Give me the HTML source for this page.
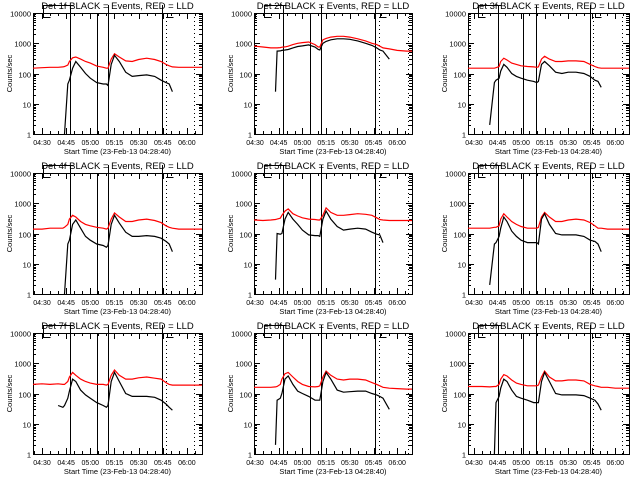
<!DOCTYPE html>
<html><head><meta charset="utf-8"><style>
html,body{margin:0;padding:0;background:#fff;}
svg{display:block;font-family:"Liberation Sans",sans-serif;}
</style></head><body>
<svg id="fig" width="640" height="480" viewBox="0 0 640 480" xmlns="http://www.w3.org/2000/svg" shape-rendering="crispEdges"></svg>
<script>
const T = [-6,0,5,10,13,14,16,17,19,21,24,27,30,34,38,40,41,43,45,48,52,56,60,65,70,74,77,79,81,85,90,96,100];
const n = null;
const red1 = [150,155,160,160,165,170,190,250,330,350,300,250,220,175,160,150,150,300,450,350,260,250,290,320,290,250,200,180,165,160,160,160,160];
const blk1 = [n,n,n,n,n,1,45,60,150,250,160,100,70,50,45,45,40,200,400,250,110,80,85,90,80,60,50,45,25,n,n,n,n];
const red2 = [800,800,750,700,700,700,720,740,760,800,900,1000,1050,1100,900,750,750,1300,1450,1600,1700,1700,1600,1400,1200,1000,900,800,700,650,580,550,550];
const blk2 = [n,n,n,n,25,550,560,580,600,620,700,780,820,880,750,620,600,1000,1150,1300,1400,1400,1350,1200,1000,850,700,600,550,300,n,n,n];
const red3 = [150,150,150,150,150,155,170,250,320,280,220,200,180,170,165,160,165,300,370,300,250,250,260,260,250,200,170,155,150,150,150,150,150];
const blk3 = [n,n,n,2,50,60,70,120,200,160,100,80,70,60,55,50,55,200,250,180,110,100,110,110,100,80,60,55,35,n,n,n,n];
const red4 = [140,140,150,150,150,160,200,300,400,350,250,200,180,160,150,140,150,300,480,350,250,250,280,300,270,230,180,160,150,140,140,140,140];
const blk4 = [n,n,n,n,n,1,45,60,200,280,150,80,60,45,40,35,40,200,400,220,110,80,80,85,80,70,55,45,25,n,n,n,n];
const red5 = [280,280,270,280,290,300,320,400,550,650,450,380,330,300,290,280,280,400,700,500,400,400,420,450,430,400,330,290,280,270,270,270,270];
const blk5 = [n,n,n,n,3,100,95,100,300,500,300,200,130,90,85,85,80,300,550,300,170,130,140,150,140,110,95,90,50,n,n,n,n];
const red6 = [150,150,150,150,160,160,180,300,450,350,250,200,170,150,150,150,160,350,500,350,250,250,280,300,280,230,180,150,150,140,140,140,140];
const blk6 = [n,n,n,2,45,50,80,150,350,250,120,80,60,50,50,50,45,300,450,200,100,90,90,90,80,60,55,45,25,n,n,n,n];
const red7 = [200,210,200,210,200,200,250,350,500,400,300,250,220,200,200,190,200,400,600,400,300,300,330,350,320,300,230,200,190,190,190,190,190];
const blk7 = [n,n,n,40,35,40,70,120,300,250,130,90,70,50,40,35,40,250,500,250,100,80,80,80,75,60,45,35,28,n,n,n,n];
const red8 = [160,160,160,160,165,170,200,300,450,500,350,250,200,170,165,170,180,350,550,400,300,280,300,300,280,230,200,180,160,150,145,140,140];
const blk8 = [n,n,n,n,2,60,70,100,300,380,200,120,100,80,60,60,60,250,500,300,130,110,115,120,120,100,90,80,70,30,n,n,n];
const red9 = [170,170,170,165,170,170,200,300,420,380,280,220,200,180,180,180,190,350,550,350,260,260,280,280,260,200,180,170,160,160,150,150,150];
const blk9 = [n,n,n,n,1,50,80,150,300,250,130,80,70,60,50,50,50,250,500,250,100,90,90,90,85,70,60,45,28,n,n,n,n];
const reds = [red1,red2,red3,red4,red5,red6,red7,red8,red9];
const blacks = [blk1,blk2,blk3,blk4,blk5,blk6,blk7,blk8,blk9];
const solidLines = [[17.4,34.2,41,74.5],[17.7,34.8,41.8,76],[15.3,31,39.5,74]];
const dottedLines = [[77,94.4],[78.5,97],[76,94]];
const xTickLabels = ["04:30","04:45","05:00","05:15","05:30","05:45","06:00"];
const xTickMins = [0,15,30,45,60,75,90];
const yTickLabels = ["1","10","100","1000","10000"];
const yTickVals = [1,10,100,1000,10000];

const cols = [{l:33,r:202,xa:42,s:1.61},{l:254,r:412,xa:255,s:1.58},{l:468,r:629,xa:474,s:1.57}];
const rowsTop = [13,173,333];
const H = 121;
const NS = "http://www.w3.org/2000/svg";
const svg = document.getElementById('fig');
function mk(tag, attrs, parent){const e=document.createElementNS(NS,tag);for(const k in attrs)e.setAttribute(k,attrs[k]);(parent||svg).appendChild(e);return e;}

for(let p=0;p<9;p++){
  const c=cols[p%3], top=rowsTop[Math.floor(p/3)], bot=top+H;
  const xs = t => c.xa + c.s*t;
  const ys = v => bot - Math.log10(Math.max(v,1))/4*H;
  const g = mk('g',{});
  
  
  const cp = mk('clipPath',{id:'cp'+p},g);
  mk('rect',{x:c.l,y:top,width:c.r-c.l,height:H},cp);
  const box = mk('rect',{x:c.l+0.5,y:top+0.5,width:c.r-c.l,height:H,fill:'none',stroke:'#000','stroke-width':1},g);
  
  
  for(let d=0;d<4;d++){
    for(let m=2;m<=9;m++){
      const yy=Math.round(ys(Math.pow(10,d)*m))+0.5;
      mk('line',{x1:c.l,x2:c.l+3,y1:yy,y2:yy,stroke:'#000'},g);
      mk('line',{x1:c.r-3,x2:c.r,y1:yy,y2:yy,stroke:'#000'},g);
    }
  }
  yTickVals.forEach((v,i)=>{
    const yy=Math.round(ys(v))+0.5;
    mk('line',{x1:c.l,x2:c.l+6,y1:yy,y2:yy,stroke:'#000'},g);
    mk('line',{x1:c.r-6,x2:c.r,y1:yy,y2:yy,stroke:'#000'},g);
    const t=mk('text',{x:c.l-2,y:yy+3,'font-size':7.5,'text-anchor':'end'},g);
    t.textContent=yTickLabels[i];
    
    
  });
  for(let m=-5;m<=100;m+=5){
    const xx=Math.round(xs(m))+0.5; if(xx<c.l||xx>c.r) continue;
    const len = (m%15===0)?6:3;
    mk('line',{x1:xx,x2:xx,y1:bot,y2:bot-len,stroke:'#000'},g);
    mk('line',{x1:xx,x2:xx,y1:top,y2:top+len,stroke:'#000'},g);
  }
  xTickMins.forEach((m,i)=>{
    const t=mk('text',{x:xs(m),y:bot+11,'font-size':7,'text-anchor':'middle'},g);
    t.textContent=xTickLabels[i];
    
    
  });
  const xt=mk('text',{x:(c.l+c.r)/2,y:bot+20,'font-size':7.5,'text-anchor':'middle'},g);
  xt.textContent='Start Time (23-Feb-13 04:28:40)';
  
  
  const yt=mk('text',{x:0,y:0,'font-size':7.5,'text-anchor':'middle',transform:`translate(${c.l-21},${top+H/2}) rotate(-90)`},g);
  yt.textContent='Counts/sec';
  
  
  const tt=mk('text',{x:(c.l+c.r)/2,y:top-4,'font-size':9.5,'text-anchor':'middle'},g);
  tt.textContent='Det '+(p+1)+'f BLACK = Events, RED = LLD';
  
  
  const sl=solidLines[p%3], dl=dottedLines[p%3];
  sl.forEach((m,i)=>{
    const xx=Math.round(xs(m))+0.5;
    const y1 = (i===1)? top : top-8;
    const l=mk('line',{x1:xx,x2:xx,y1:y1,y2:bot,stroke:'#000'},g);
    
    
  });
  dl.forEach(m=>{
    const xx=Math.round(xs(m))+0.5;
    const l=mk('line',{x1:xx,x2:xx,y1:top,y2:bot,stroke:'#000','stroke-dasharray':'1,3'},g);
    
    
  });
  const bx=c.l+10.5, ex=Math.round(xs(sl[0]))+3.5;
  mk('polyline',{points:`${bx+7},${top+4.5} ${bx},${top+4.5} ${bx},${top-7.5} ${ex},${top-7.5}`,fill:'none',stroke:'#000'},g);
  const hx=Math.round(xs(sl[3]))+5.5;
  mk('polyline',{points:`${hx+6},${top+4.5} ${hx},${top+4.5} ${hx},${top}`,fill:'none',stroke:'#000'},g);
  function series(arr,color,name){
    let seg=[];const segs=[];
    arr.forEach((v,i)=>{ if(v===null){ if(seg.length)segs.push(seg); seg=[]; } else seg.push(xs(T[i]).toFixed(1)+','+ys(v).toFixed(1)); });
    if(seg.length)segs.push(seg);
    segs.forEach(s=>{
      const pl=mk('polyline',{points:s.join(' '),fill:'none',stroke:color,'stroke-width':1.2,'clip-path':`url(#cp${p})`,'shape-rendering':'auto'},g);
      
      
    });
  }
  series(reds[p],'#ff0000','lld-series-red');
  series(blacks[p],'#000000','events-series-black');
}
</script>
</body></html>
